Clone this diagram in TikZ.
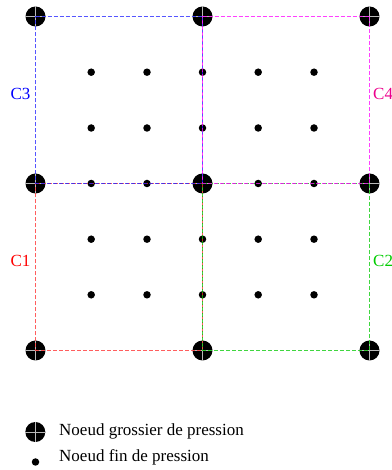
\documentclass[tikz,border=0pt]{standalone}
\usepackage{fontspec}
\setmainfont{Liberation Serif}
\definecolor{cred}{RGB}{255,40,40}
\definecolor{cgreen}{RGB}{0,200,0}
\definecolor{cblue}{RGB}{30,30,255}
\definecolor{cmag}{RGB}{255,0,255}
\begin{document}
\begin{tikzpicture}[x=1pt,y=1pt,
  coarse/.style={circle,fill=black,inner sep=0pt,minimum size=20pt},
  fine/.style={circle,fill=black,inner sep=0pt,minimum size=7.5pt},
  subedge/.style={dash pattern=on 4pt off 2pt,line width=1.5pt,opacity=0.75},
  cross/.style={gray!55,line width=0.25pt},
  lab/.style={font=\fontsize{17}{20}\selectfont,inner sep=0pt},
  legtext/.style={font=\fontsize{17}{20}\selectfont,inner sep=0pt,anchor=base west}]
\useasboundingbox (0,0) rectangle (391,470);
% coarse nodes (pixel centres)
\foreach \i/\x in {0/35.5,1/202.5,2/369.5}{
  \foreach \j/\y in {0/453.5,1/286.5,2/119.5}{
    \node[coarse] (g\i\j) at (\x,\y) {};
    \draw[cross] (g\i\j.north) -- (g\i\j.south) (g\i\j.west) -- (g\i\j.east);
  }
}
% fine nodes
\foreach \i/\x in {0/91.2,1/147,2/202.5,3/258.2,4/314}{
  \foreach \j/\y in {0/397.8,1/342,2/286.5,3/230.8,4/175.2}{
    \node[fine] (f\i\j) at (\x,\y) {};
  }
}
% subdomain C1
\draw[subedge,cred] (g01.center) -- (g11.center) -- (g12.center) -- (g02.center) -- cycle;
% subdomain C2
\draw[subedge,cgreen] (g11.center) -- (g21.center) -- (g22.center) -- (g12.center) -- cycle;
% subdomain C3
\draw[subedge,cblue] (g00.center) -- (g10.center) -- (g11.center) -- (g01.center) -- cycle;
% subdomain C4
\draw[subedge,cmag] (g10.center) -- (g20.center) -- (g21.center) -- (g11.center) -- cycle;
% labels
\node[lab,text=blue] (c3) at (20.5,376) {C3};
\node[lab,text=magenta,anchor=west] (c4) at (373,376) {C4};
\node[lab,text=red] (c1) at (20.5,209) {C1};
\node[lab,text=green!80!black,anchor=west] (c2) at (373,209) {C2};
% legend
\node[coarse] (lc) at (35.3,38) {};
\draw[cross] (lc.north) -- (lc.south) (lc.west) -- (lc.east);
\node[legtext] (lt1) at (59,34.3) {Noeud grossier de pression};
\node[fine] (lf) at (35.5,8) {};
\node[legtext] (lt2) at (59,8.3) {Noeud fin de pression};
\end{tikzpicture}
\end{document}
